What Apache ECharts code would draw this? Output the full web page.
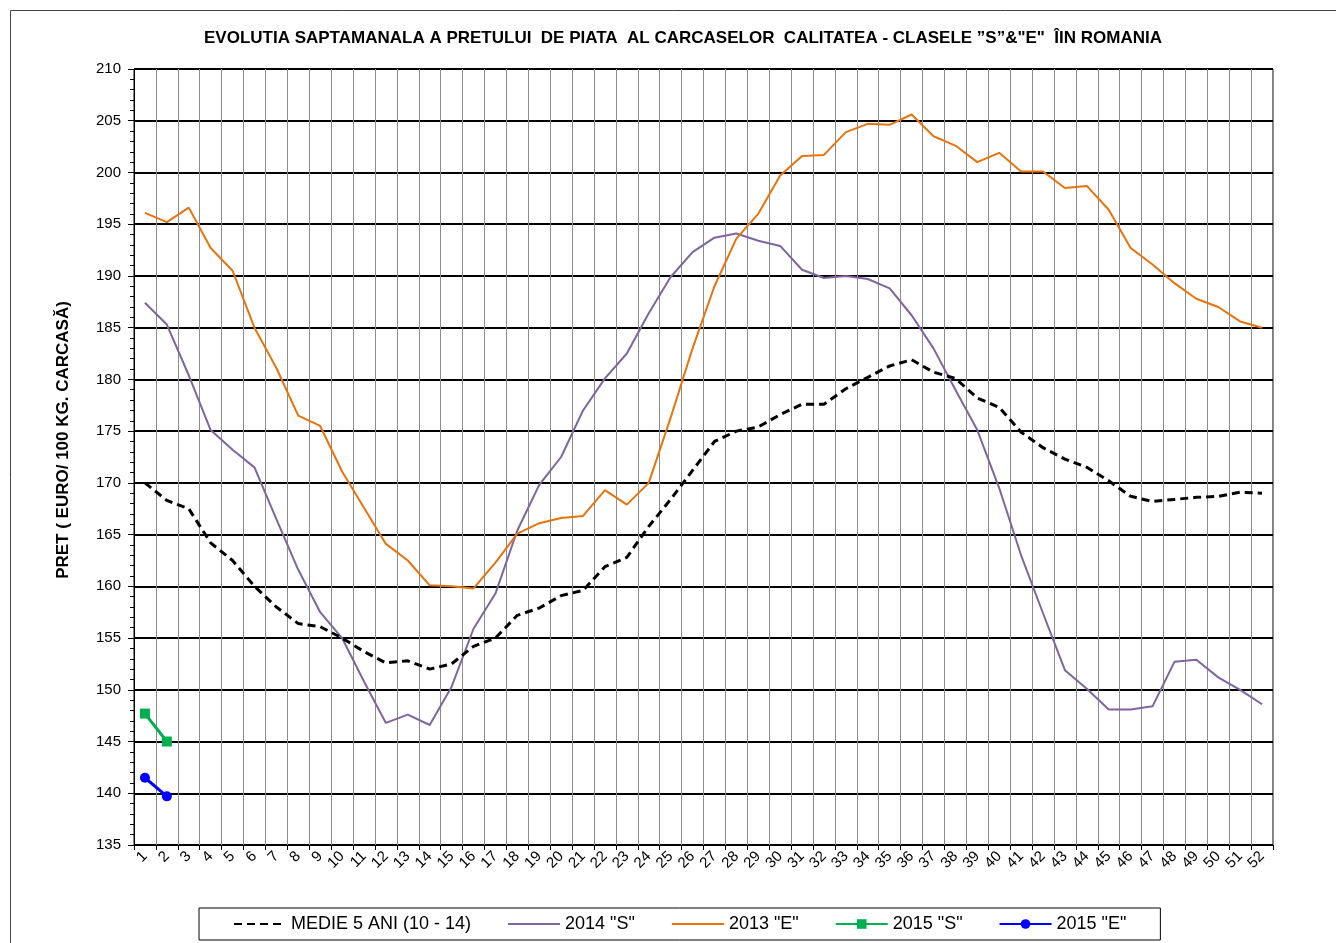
<!DOCTYPE html>
<html>
<head>
<meta charset="utf-8">
<title>Evolutia saptamanala a pretului carcaselor</title>
<script src="https://cdn.jsdelivr.net/npm/echarts@6/dist/echarts.min.js"></script>
<style>
  html, body { margin: 0; padding: 0; background: #fff; }
  #chart { width: 1336px; height: 943px; }
</style>
</head>
<body>
<div id="chart"></div>
<script>
// week numbers on the x axis
const weeks = ["1","2","3","4","5","6","7","8","9","10","11","12","13","14","15","16","17","18","19","20",
  "21","22","23","24","25","26","27","28","29","30","31","32","33","34","35","36","37","38","39","40",
  "41","42","43","44","45","46","47","48","49","50","51","52"]

// 5 year average (2010 - 2014)
const medie5Ani = [170.0, 168.3, 167.5, 164.2, 162.5, 160.0, 158.0, 156.4, 156.1, 155.0,
  153.7, 152.6, 152.8, 152.0, 152.5, 154.2, 155.0, 157.2, 157.9, 159.1,
  159.6, 161.9, 162.8, 165.8, 168.4, 171.2, 174.0, 175.0, 175.4, 176.6,
  177.6, 177.6, 179.1, 180.2, 181.3, 181.9, 180.7, 180.1, 178.2, 177.3,
  174.9, 173.4, 172.3, 171.5, 170.2, 168.7, 168.2, 168.4, 168.6, 168.7,
  169.1, 169.0]

// 2014 class "S"
const s2014 = [187.4, 185.3, 180.4, 175.1, 173.2, 171.5, 166.5, 161.6, 157.5, 155.0,
  150.8, 146.8, 147.6, 146.6, 150.3, 155.9, 159.3, 165.4, 169.8, 172.5,
  177.0, 180.1, 182.5, 186.4, 189.9, 192.3, 193.7, 194.1, 193.4, 192.9,
  190.6, 189.8, 190.0, 189.7, 188.8, 186.2, 183.0, 179.0, 175.1, 169.5,
  163.0, 157.4, 151.9, 150.1, 148.1, 148.1, 148.4, 152.7, 152.9, 151.2,
  150.0, 148.6]

// 2013 class "E"
const e2013 = [196.1, 195.2, 196.6, 192.7, 190.5, 185.0, 181.1, 176.5, 175.5, 171.1,
  167.6, 164.1, 162.5, 160.1, 160.0, 159.8, 162.3, 165.1, 166.1, 166.6,
  166.8, 169.3, 167.9, 170.0, 176.3, 183.0, 189.0, 193.6, 196.0, 199.7,
  201.6, 201.7, 203.9, 204.7, 204.6, 205.6, 203.5, 202.6, 201.0, 201.9,
  200.1, 200.1, 198.5, 198.7, 196.4, 192.7, 191.1, 189.3, 187.8, 187.0,
  185.6, 185.0]

// 2015, only the first weeks
const s2015 = [147.7, 145.0]
const e2015 = [141.5, 139.7]

const font = '"Liberation Sans", Arial, sans-serif'
const noMarker = { color: 'rgba(0,0,0,0)', borderWidth: 0 }

const chart = echarts.init(document.getElementById('chart'), null, { renderer: 'canvas' })

chart.setOption({
  animation: false,
  backgroundColor: '#fff',
  textStyle: { fontFamily: font, color: '#000' },
  title: {
    text: 'EVOLUTIA SAPTAMANALA A PRETULUI  DE PIATA  AL CARCASELOR  CALITATEA - CLASELE \u201DS\u201D&"E"  \u00CEIN ROMANIA',
    left: 678,
    textAlign: 'center',
    top: 25,
    textStyle: { fontFamily: font, fontSize: 17, fontWeight: 'bold', color: '#000' }
  },
  graphic: [
    {
      type: 'rect',
      silent: true,
      shape: { x: 10.5, y: 10.5, width: 1400, height: 1000 },
      style: { fill: 'none', stroke: '#444', lineWidth: 1 }
    },
    {
      // y axis title, placed like the original (a bit above the plot middle)
      type: 'text',
      silent: true,
      x: 63,
      y: 440,
      rotation: Math.PI / 2,
      style: {
        text: 'PRET ( EURO/ 100 KG. CARCAS\u0102)',
        font: 'bold 17px ' + font,
        fill: '#000',
        align: 'center',
        verticalAlign: 'middle'
      }
    }
  ],
  grid: {
    left: 134,
    right: 63,
    top: 69,
    bottom: 98,
    show: true,
    borderColor: '#000',
    borderWidth: 1
  },
  legend: {
    left: 199,
    top: 908,
    padding: [7, 34],
    itemGap: 36,
    itemWidth: 52,
    itemHeight: 12,
    borderColor: '#000',
    borderWidth: 1,
    textStyle: { fontFamily: font, fontSize: 18, color: '#000' },
    data: [
      { name: 'MEDIE 5 ANI (10 - 14)', itemStyle: noMarker },
      { name: '2014 "S"', itemStyle: noMarker },
      { name: '2013 "E"', itemStyle: noMarker },
      '2015 "S"',
      '2015 "E"'
    ]
  },
  xAxis: {
    type: 'category',
    data: weeks,
    boundaryGap: true,
    axisLine: { lineStyle: { color: '#000', width: 1 } },
    axisTick: { show: true, length: 5, lineStyle: { color: '#000' } },
    axisLabel: { rotate: 45, fontSize: 15, color: '#000', margin: 9, interval: 0 },
    splitLine: { show: true, lineStyle: { color: '#8c8c8c', width: 1 } }
  },
  yAxis: {
    type: 'value',
    min: 135,
    max: 210,
    interval: 5,
    axisLine: { show: true, lineStyle: { color: '#000', width: 1 } },
    axisTick: { show: true, length: 6, lineStyle: { color: '#000' } },
    minorTick: { show: true, splitNumber: 5, length: 4, lineStyle: { color: '#000' } },
    axisLabel: { fontSize: 15, color: '#000', margin: 13 },
    splitLine: { show: true, lineStyle: { color: '#000', width: 2 } }
  },
  series: [
    {
      name: '2014 "S"',
      type: 'line',
      data: s2014,
      symbol: 'none',
      lineStyle: { color: '#8064A2', width: 2 },
      itemStyle: { color: '#8064A2' }
    },
    {
      name: '2013 "E"',
      type: 'line',
      data: e2013,
      symbol: 'none',
      lineStyle: { color: '#E8730C', width: 2 },
      itemStyle: { color: '#E8730C' }
    },
    {
      name: 'MEDIE 5 ANI (10 - 14)',
      type: 'line',
      data: medie5Ani,
      symbol: 'none',
      lineStyle: { color: '#000', width: 3, type: [8, 5] },
      itemStyle: { color: '#000' }
    },
    {
      name: '2015 "S"',
      type: 'line',
      data: s2015,
      symbol: 'rect',
      symbolSize: 10,
      lineStyle: { color: '#00B050', width: 3 },
      itemStyle: { color: '#00B050' }
    },
    {
      name: '2015 "E"',
      type: 'line',
      data: e2015,
      symbol: 'circle',
      symbolSize: 10,
      lineStyle: { color: '#0000FF', width: 3 },
      itemStyle: { color: '#0000FF' }
    }
  ]
})
</script>
</body>
</html>
